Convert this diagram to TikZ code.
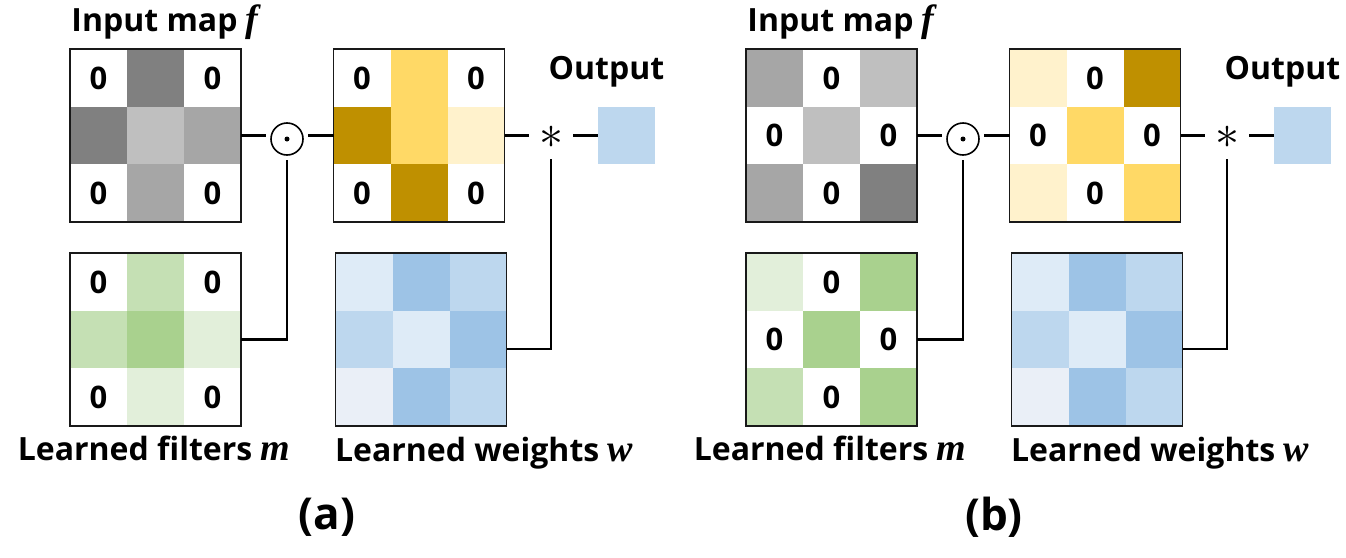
\documentclass[tikz,border=0pt]{standalone}
\usepackage{fontspec}
\usepackage{graphicx}
\setsansfont{Open Sans}
\newfontfamily\serifbi{Liberation Serif}
\usetikzlibrary{calc}
\definecolor{gA}{HTML}{808080}
\definecolor{gB}{HTML}{A6A6A6}
\definecolor{gC}{HTML}{BFBFBF}
\definecolor{yD}{HTML}{BF9000}
\definecolor{yM}{HTML}{FFD966}
\definecolor{yL}{HTML}{FFF2CC}
\definecolor{nL}{HTML}{E2EFDA}
\definecolor{nM}{HTML}{C5E0B4}
\definecolor{nD}{HTML}{A9D18E}
\definecolor{bL}{HTML}{DEEBF7}
\definecolor{bM}{HTML}{BDD7EE}
\definecolor{bD}{HTML}{9DC3E6}
\definecolor{bX}{HTML}{EAEFF7}
\newcommand\bimath[1]{{\serifbi\bfseries\itshape\fontsize{38}{40}\selectfont #1}}
\newcommand\zerocell[3]{\node[zero] (#1z#2#3) at ($(#1.north west)+({(#3-0.5)*57pt},{-(#2-0.5)*57.5pt})$) {0};}
\tikzset{
  cellgrid/.style={draw=black!90, line width=1.8pt, minimum width=171pt, minimum height=172.5pt,
    inner sep=0pt, outer sep=0pt,
    path picture={\foreach \col [count=\k from 0] in {#1} {%
      \pgfmathtruncatemacro\rr{div(\k,3)}\pgfmathtruncatemacro\cc{mod(\k,3)}%
      \fill[\col] ($(path picture bounding box.north west)+(\cc*57pt,-\rr*57.5pt)$) rectangle ++(57pt,-57.5pt);}}},
  zero/.style={font=\sffamily\bfseries\fontsize{31}{36}\selectfont, inner sep=0pt},
  lab/.style={font=\sffamily\bfseries\fontsize{32}{38}\selectfont, inner sep=0pt, anchor=base},
  captxt/.style={font=\sffamily\bfseries\fontsize{44}{50}\selectfont, inner sep=0pt},
  opcirc/.style={circle, draw, line width=1.6pt, minimum size=32pt, inner sep=0pt, outer sep=5pt,
    path picture={\fill (path picture bounding box.center) circle (2.5pt);}},
  starop/.style={circle, minimum size=44pt, inner sep=0pt, outer sep=0pt, font=\normalsize},
  outbox/.style={fill=bM, minimum size=57pt, inner sep=0pt, outer sep=0pt},
  conn/.style={line width=2.6pt}
}
\begin{document}
\begin{tikzpicture}[x=1pt,y=-1pt]
\useasboundingbox (0,0) rectangle (1346,557);
% ---------- panel (a)
\node[cellgrid={white,gA,white,gA,gC,gB,white,gB,white}] (fa) at (155.5,135.5) {};
\node[cellgrid={white,yM,white,yD,yM,yL,white,yD,white}] (pa) at (419,135.5) {};
\node[cellgrid={white,nM,white,nM,nD,nL,white,nL,white}] (ma) at (155.5,339.5) {};
\node[cellgrid={bL,bD,bM,bM,bL,bD,bX,bD,bM}] (wa) at (421,339.5) {};
\zerocell{fa}{1}{1}\zerocell{fa}{1}{3}\zerocell{fa}{3}{1}\zerocell{fa}{3}{3}
\zerocell{pa}{1}{1}\zerocell{pa}{1}{3}\zerocell{pa}{3}{1}\zerocell{pa}{3}{3}
\zerocell{ma}{1}{1}\zerocell{ma}{1}{3}\zerocell{ma}{3}{1}\zerocell{ma}{3}{3}
\node[opcirc] (da) at (287,139) {};
\node[starop] (sa) at (551,137) {\scalebox{4.8}{$\ast$}};
\node[outbox] (oa) at (626.5,135.5) {};
\node[lab] (la1) at (165,31.7) {Input map \bimath{f}};
\node[lab] (la2) at (606.5,79.3) {Output};
\node[lab] (la3) at (154,460.7) {Learned filters \bimath{m}};
\node[lab] (la4) at (484,461.7) {Learned weights \bimath{w}};
\draw[conn] (fa.east) -- (fa.east -| da.west);
\draw[conn] (pa.west -| da.east) -- (pa.west);
\draw[conn] (da.south) |- (ma.east);
\draw[conn] (pa.east) -- (pa.east -| sa.west);
\draw[conn] (sa.east |- oa.west) -- (oa.west);
\coordinate (wain) at ($(wa.east)+(0,9.5)$);
\draw[conn] (sa.south) |- (wain);
% ---------- panel (b)
\begin{scope}[xshift=676pt]
\node[cellgrid={gB,white,gC,white,gC,white,gB,white,gA}] (fb) at (155.5,135.5) {};
\node[cellgrid={yL,white,yD,white,yM,white,yL,white,yM}] (pb) at (419,135.5) {};
\node[cellgrid={nL,white,nD,white,nD,white,nM,white,nD}] (mb) at (155.5,339.5) {};
\node[cellgrid={bL,bD,bM,bM,bL,bD,bX,bD,bM}] (wb) at (421,339.5) {};
\zerocell{fb}{1}{2}\zerocell{fb}{2}{1}\zerocell{fb}{2}{3}\zerocell{fb}{3}{2}
\zerocell{pb}{1}{2}\zerocell{pb}{2}{1}\zerocell{pb}{2}{3}\zerocell{pb}{3}{2}
\zerocell{mb}{1}{2}\zerocell{mb}{2}{1}\zerocell{mb}{2}{3}\zerocell{mb}{3}{2}
\node[opcirc] (db) at (287,139) {};
\node[starop] (sb) at (551,137) {\scalebox{4.8}{$\ast$}};
\node[outbox] (ob) at (626.5,135.5) {};
\node[lab] (lb1) at (165,31.7) {Input map \bimath{f}};
\node[lab] (lb2) at (606.5,79.3) {Output};
\node[lab] (lb3) at (154,460.7) {Learned filters \bimath{m}};
\node[lab] (lb4) at (484,461.7) {Learned weights \bimath{w}};
\draw[conn] (fb.east) -- (fb.east -| db.west);
\draw[conn] (pb.west -| db.east) -- (pb.west);
\draw[conn] (db.south) |- (mb.east);
\draw[conn] (pb.east) -- (pb.east -| sb.west);
\draw[conn] (sb.east |- ob.west) -- (ob.west);
\coordinate (wbin) at ($(wb.east)+(0,9.5)$);
\draw[conn] (sb.south) |- (wbin);
\end{scope}
\node[captxt] (capa) at (327,517) {(a)};
\node[captxt] (capb) at (994,517) {(b)};
\end{tikzpicture}
\end{document}
